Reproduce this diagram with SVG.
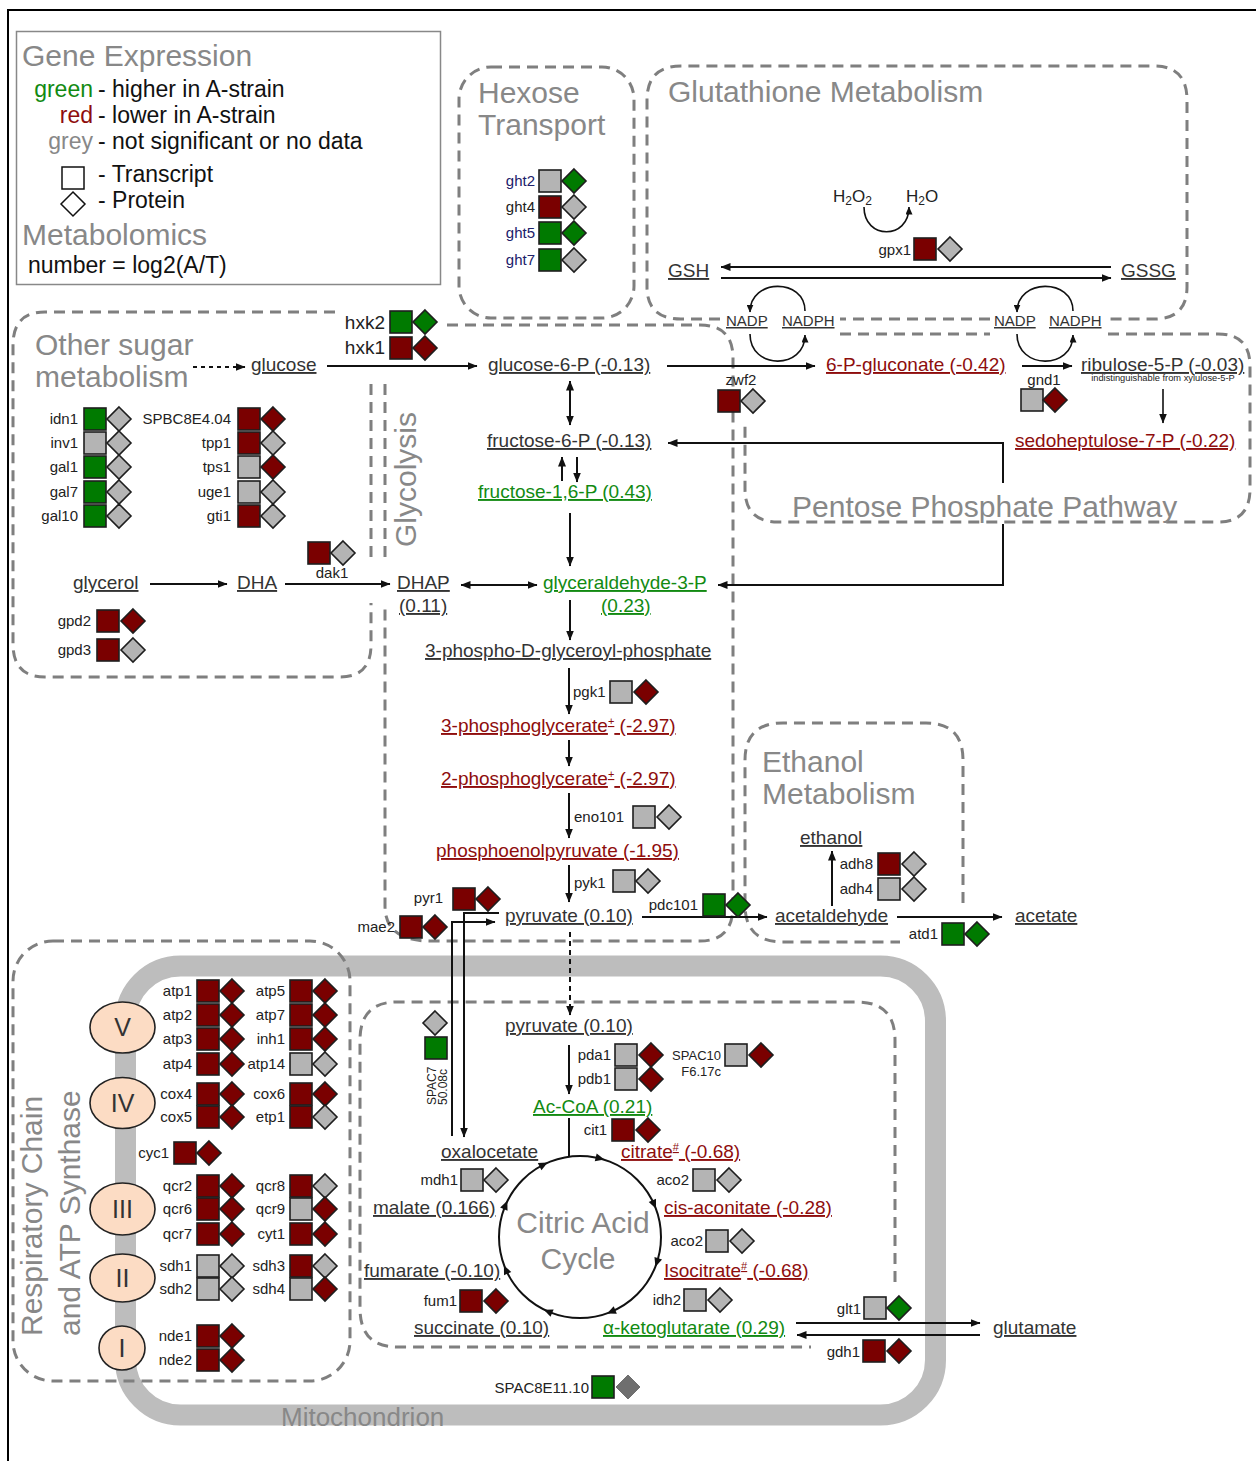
<svg xmlns="http://www.w3.org/2000/svg" width="1256" height="1461" viewBox="0 0 1256 1461">
<style>
text{font-family:"Liberation Sans",Arial,Helvetica,sans-serif}
.t{font-size:30px;fill:#888}
.m{font-size:19px;fill:#333;text-decoration:underline}
.mr{fill:#8e0d0d}
.mg{fill:#128a12}
.gl{font-size:15px;fill:#222}
.e{text-anchor:end}
.c{text-anchor:middle}
.nv{fill:#20206a}
.lg{font-size:23px;fill:#111}
.ln{stroke:#111;stroke-width:2;fill:none}
.th{stroke:#111;stroke-width:1.6;fill:none}
.box{fill:none;stroke:#7f7f7f;stroke-width:3;stroke-dasharray:11 7}
.i{stroke:#1e1e1e;stroke-width:1.6}
.r{fill:#7a0000}.g{fill:#007a00}.n{fill:#b4b4b4}.k{fill:#6f6f6f;stroke:#6f6f6f}
.cx{fill:#fcdcc4;stroke:#222;stroke-width:1.6}
.rn{font-size:25px;fill:#333;text-anchor:middle}
.ah{fill:#111}
</style>
<defs>
<rect id="sq" width="22" height="22"/>
<path id="dm" d="M0,-12L12,0L0,12L-12,0Z"/>
<marker id="a" viewBox="0 0 10 8" refX="9.5" refY="4" markerWidth="10" markerHeight="8" markerUnits="userSpaceOnUse" orient="auto-start-reverse"><path d="M0,0L10,4L0,8Z" fill="#111"/></marker>
<marker id="s" viewBox="0 0 8 7" refX="7.5" refY="3.5" markerWidth="8" markerHeight="7" markerUnits="userSpaceOnUse" orient="auto"><path d="M0,0L8,3.5L0,7Z" fill="#111"/></marker>
</defs>
<rect width="1256" height="1461" fill="#fff"/>
<path d="M8,1461V10H1256" stroke="#000" stroke-width="2" fill="none"/>

<!-- Mitochondrion -->
<g id="mitochondrion">
<rect x="125.5" y="966" width="810" height="449" rx="55" fill="none" stroke="#bdbdbd" stroke-width="21"/>
<text x="281" y="1426" font-size="26" fill="#888">Mitochondrion</text>
</g>

<!-- Region boxes -->
<g id="regions">
<rect id="legend-box" x="16.5" y="31.5" width="424" height="253" fill="none" stroke="#888" stroke-width="1.5"/>
<rect id="hexose-box" class="box" x="459" y="67" width="175" height="251" rx="32"/>
<path id="glutathione-box" class="box" d="M720,319H681Q647,319 647,287V100Q647,66 681,66H1154Q1187,66 1187,100V287Q1187,319 1154,319H1108M990,319H840"/>
<path id="ppp-box" class="box" d="M840,334H990M1108,334H1218Q1250,334 1250,366V489Q1250,522 1218,522H778Q745,522 745,489V420"/>
<path id="other-sugar-box" class="box" d="M335,312H45Q13,312 13,345V644Q13,677 45,677H340Q371,677 371,645V603M371,557V377"/>
<path id="glycolysis-box" class="box" d="M447,325H700Q733,325 733,358V906Q733,941 700,941H430Q385,941 385,906V603M385,557V377"/>
<path id="ethanol-box" class="box" d="M963,903V760Q963,723 926,723H783Q745,723 745,760V905Q745,942 783,942H900"/>
<rect id="respiratory-box" class="box" x="13" y="941" width="337" height="440" rx="40"/>
<path id="tca-box" class="box" d="M895,1282V1040Q895,1002 857,1002H397Q360,1002 360,1040V1308Q360,1347 397,1347H811"/>
</g>

<!-- Titles -->
<g id="titles">
<text class="t" x="22" y="66">Gene Expression</text>
<text class="t" x="22" y="245">Metabolomics</text>
<text class="t" x="478" y="103">Hexose</text>
<text class="t" x="478" y="135">Transport</text>
<text class="t" x="668" y="102">Glutathione Metabolism</text>
<text class="t" x="35" y="355">Other sugar</text>
<text class="t" x="35" y="387">metabolism</text>
<text class="t" transform="translate(416,547) rotate(-90)">Glycolysis</text>
<text class="t" x="792" y="517">Pentose Phosphate Pathway</text>
<text class="t" x="762" y="772">Ethanol</text>
<text class="t" x="762" y="804">Metabolism</text>
<text class="t" transform="translate(42,1336) rotate(-90)">Respiratory Chain</text>
<text class="t" transform="translate(80,1336) rotate(-90)">and ATP Synthase</text>
<text class="t c" x="583" y="1233">Citric Acid</text>
<text class="t c" x="578" y="1269">Cycle</text>
</g>

<!-- Legend -->
<g id="legend">
<text class="lg e" x="93" y="97" style="fill:#128a12">green</text>
<text class="lg" x="98" y="97">- higher in A-strain</text>
<text class="lg e" x="93" y="123" style="fill:#8e0d0d">red</text>
<text class="lg" x="98" y="123">- lower in A-strain</text>
<text class="lg e" x="93" y="149" style="fill:#888">grey</text>
<text class="lg" x="98" y="149">- not significant or no data</text>
<rect x="62" y="167" width="22" height="22" fill="#fff" stroke="#111" stroke-width="1.5"/>
<text class="lg" x="98" y="182">- Transcript</text>
<path d="M73,192L85,204L73,216L61,204Z" fill="#fff" stroke="#111" stroke-width="1.5"/>
<text class="lg" x="98" y="208">- Protein</text>
<text class="lg" x="28" y="273">number = log2(A/T)</text>
</g>

<!-- Connectors -->
<g id="connectors">
<path class="ln" d="M193,367H245" stroke-width="1.8" stroke-dasharray="4 4" marker-end="url(#a)"/>
<path class="ln" d="M327,366H477" marker-end="url(#a)"/>
<path class="ln" d="M667,366H815" marker-end="url(#a)"/>
<path class="ln" d="M1022,366H1072" marker-end="url(#a)"/>
<path class="th" d="M1163,389V423" marker-end="url(#a)"/>
<path class="ln" d="M570,381V425" marker-start="url(#a)" marker-end="url(#a)"/>
<path class="ln" d="M1003,483V443H668" marker-end="url(#a)"/>
<path class="ln" d="M1003,524V585H718" marker-end="url(#a)"/>
<path class="ln" d="M562,481V457" marker-end="url(#a)"/>
<path class="ln" d="M577,457V482" marker-end="url(#a)"/>
<path class="ln" d="M570,513V566" marker-end="url(#a)"/>
<path class="ln" d="M461,585H537" marker-start="url(#a)" marker-end="url(#a)"/>
<path class="ln" d="M150,584H227" marker-end="url(#a)"/>
<path class="ln" d="M285,584H390" marker-end="url(#a)"/>
<path class="ln" d="M570,600V640" marker-end="url(#a)"/>
<path class="ln" d="M569,668V714" marker-end="url(#a)"/>
<path class="ln" d="M569,740V766" marker-end="url(#a)"/>
<path class="ln" d="M569,793V838" marker-end="url(#a)"/>
<path class="ln" d="M569,865V902" marker-end="url(#a)"/>
<path class="ln" d="M642,917H767" marker-end="url(#a)"/>
<path class="ln" d="M832,906V851" marker-end="url(#a)"/>
<path class="ln" d="M897,917H1002" marker-end="url(#a)"/>
<path class="ln" d="M570,932V1015" stroke-width="1.6" stroke-dasharray="5 4" marker-end="url(#a)"/>
<path class="ln" d="M452,1136V922H495" marker-end="url(#a)"/>
<path class="ln" d="M499,913H464V1137" marker-end="url(#a)"/>
<path class="ln" d="M569,1045V1094" marker-end="url(#a)"/>
<path class="ln" d="M569,1118V1156"/>
<path class="ln" d="M796,1323H980" marker-end="url(#a)"/>
<path class="ln" d="M980,1335H797" marker-end="url(#a)"/>
<path class="ln" d="M1111,267H721" marker-end="url(#a)"/>
<path class="ln" d="M721,278H1111" marker-end="url(#a)"/>
<path class="th" d="M864,207C864,240 909,240 909,207" marker-end="url(#s)"/>
<path class="th" d="M805,311C805,278 750,278 750,312" marker-end="url(#s)"/>
<path class="th" d="M750,334C750,370 805,370 805,335" marker-end="url(#s)"/>
<path class="th" d="M1073,311C1073,278 1017,278 1017,312" marker-end="url(#s)"/>
<path class="th" d="M1017,334C1017,370 1073,370 1073,335" marker-end="url(#s)"/>
<circle class="ln" cx="580" cy="1237" r="81" stroke-width="2.5"/>
<path class="ah" d="M5,0L-4,-4L-4,4Z" transform="translate(543.2,1164.8) rotate(-27)"/>
<path class="ah" d="M5,0L-4,-4L-4,4Z" transform="translate(599.6,1158.4) rotate(14)"/>
<path class="ah" d="M5,0L-4,-4L-4,4Z" transform="translate(654,1204.1) rotate(66)"/>
<path class="ah" d="M5,0L-4,-4L-4,4Z" transform="translate(657,1262) rotate(108)"/>
<path class="ah" d="M5,0L-4,-4L-4,4Z" transform="translate(611.6,1311.6) rotate(157)"/>
<path class="ah" d="M5,0L-4,-4L-4,4Z" transform="translate(548.4,1311.6) rotate(203)"/>
<path class="ah" d="M5,0L-4,-4L-4,4Z" transform="translate(506,1270) rotate(246)"/>
<path class="ah" d="M5,0L-4,-4L-4,4Z" transform="translate(505.4,1205.4) rotate(293)"/>
</g>

<!-- Metabolites -->
<g id="metabolites">
<text id="m-glucose" class="m" x="251" y="371">glucose</text>
<text id="m-g6p" class="m" x="488" y="371">glucose-6-P (-0.13)</text>
<text id="m-6pg" class="m mr" x="826" y="371">6-P-gluconate (-0.42)</text>
<g id="m-ru5p"><text class="m" x="1081" y="371">ribulose-5-P (-0.03)</text>
<text x="1163" y="381" font-size="9.3" fill="#222" class="c">indistinguishable from xylulose-5-P</text></g>
<text id="m-s7p" class="m mr" x="1015" y="447">sedoheptulose-7-P (-0.22)</text>
<text id="m-f6p" class="m" x="487" y="447">fructose-6-P (-0.13)</text>
<text id="m-f16p" class="m mg" x="478" y="498">fructose-1,6-P (0.43)</text>
<text id="m-gsh" class="m" x="668" y="277">GSH</text>
<text id="m-gssg" class="m" x="1121" y="277">GSSG</text>
<g id="m-h2o2"><text x="833" y="202" font-size="17" fill="#222">H<tspan font-size="12" dy="3">2</tspan><tspan dy="-3">O</tspan><tspan font-size="12" dy="3">2</tspan></text></g>
<g id="m-h2o"><text x="906" y="202" font-size="17" fill="#222">H<tspan font-size="12" dy="3">2</tspan><tspan dy="-3">O</tspan></text></g>
<text class="m" x="726" y="326" style="font-size:15px">NADP</text>
<text class="m" x="782" y="326" style="font-size:15px">NADPH</text>
<text class="m" x="994" y="326" style="font-size:15px">NADP</text>
<text class="m" x="1049" y="326" style="font-size:15px">NADPH</text>
<text id="m-glycerol" class="m" x="73" y="589">glycerol</text>
<text id="m-dha" class="m" x="237" y="589">DHA</text>
<g id="m-dhap"><text class="m" x="397" y="589">DHAP</text><text class="m" x="399" y="612">(0.11)</text></g>
<g id="m-g3p"><text class="m mg" x="543" y="589">glyceraldehyde-3-P </text><text class="m mg" x="601" y="612">(0.23)</text></g>
<text id="m-bpg" class="m" x="425" y="657">3-phospho-D-glyceroyl-phosphate</text>
<text id="m-3pg" class="m mr" x="441" y="732">3-phosphoglycerate<tspan font-size="11" dy="-7">+</tspan><tspan dy="7"> (-2.97)</tspan></text>
<text id="m-2pg" class="m mr" x="441" y="785">2-phosphoglycerate<tspan font-size="11" dy="-7">+</tspan><tspan dy="7"> (-2.97)</tspan></text>
<text id="m-pep" class="m mr" x="436" y="857">phosphoenolpyruvate (-1.95)</text>
<text id="m-pyr" class="m" x="505" y="922">pyruvate (0.10)</text>
<text id="m-acald" class="m" x="775" y="922">acetaldehyde</text>
<text id="m-ethanol" class="m" x="800" y="844">ethanol</text>
<text id="m-acetate" class="m" x="1015" y="922">acetate</text>
<text id="m-pyr-mito" class="m" x="505" y="1032">pyruvate (0.10)</text>
<text id="m-accoa" class="m mg" x="533" y="1113">Ac-CoA (0.21)</text>
<text id="m-citrate" class="m mr" x="621" y="1158">citrate<tspan font-size="11" dy="-7">#</tspan><tspan dy="7"> (-0.68)</tspan></text>
<text id="m-cisacon" class="m mr" x="664" y="1214">cis-aconitate (-0.28)</text>
<text id="m-isocit" class="m mr" x="664" y="1277">Isocitrate<tspan font-size="11" dy="-7">#</tspan><tspan dy="7"> (-0.68)</tspan></text>
<text id="m-akg" class="m mg" x="603" y="1334">α-ketoglutarate (0.29)</text>
<text id="m-succ" class="m" x="414" y="1334">succinate (0.10)</text>
<text id="m-fum" class="m" x="364" y="1277">fumarate (-0.10)</text>
<text id="m-mal" class="m" x="373" y="1214">malate (0.166)</text>
<text id="m-oaa" class="m" x="441" y="1158">oxalocetate</text>
<text id="m-glu" class="m" x="993" y="1334">glutamate</text>
</g>

<!-- Respiratory complexes -->
<g id="complexes">
<g id="cV"><ellipse class="cx" cx="122.5" cy="1027.5" rx="32.5" ry="25.5"/><text class="rn" x="122.5" y="1036">V</text></g>
<g id="cIV"><ellipse class="cx" cx="122.5" cy="1103" rx="32.5" ry="25.5"/><text class="rn" x="122.5" y="1112">IV</text></g>
<g id="cIII"><ellipse class="cx" cx="122.5" cy="1209" rx="32.5" ry="26"/><text class="rn" x="122.5" y="1218">III</text></g>
<g id="cII"><ellipse class="cx" cx="122.5" cy="1278" rx="32.5" ry="24"/><text class="rn" x="122.5" y="1287">II</text></g>
<g id="cI"><ellipse class="cx" cx="122" cy="1348" rx="23" ry="22"/><text class="rn" x="122" y="1357">I</text></g>
</g>

<!-- Genes -->
<g id="genes">
<g id="ght2"><text class="gl e nv" x="535" y="186">ght2</text><use href="#sq" x="539" y="170" class="i n"/><use href="#dm" x="574" y="181" class="i g"/></g>
<g id="ght4"><text class="gl e" x="535" y="212">ght4</text><use href="#sq" x="539" y="196" class="i r"/><use href="#dm" x="574" y="207" class="i n"/></g>
<g id="ght5"><text class="gl e nv" x="535" y="238">ght5</text><use href="#sq" x="539" y="222" class="i g"/><use href="#dm" x="574" y="233" class="i g"/></g>
<g id="ght7"><text class="gl e nv" x="535" y="265">ght7</text><use href="#sq" x="539" y="249" class="i g"/><use href="#dm" x="574" y="260" class="i n"/></g>

<g id="gpx1"><text class="gl e" x="911" y="255">gpx1</text><use href="#sq" x="914" y="238" class="i r"/><use href="#dm" x="950" y="249" class="i n"/></g>
<g id="hxk2"><text class="gl e" x="385" y="329" style="font-size:19px">hxk2</text><use href="#sq" x="390" y="311" class="i g"/><use href="#dm" x="425" y="322" class="i g"/></g>
<g id="hxk1"><text class="gl e" x="385" y="354" style="font-size:19px">hxk1</text><use href="#sq" x="390" y="337" class="i r"/><use href="#dm" x="425" y="348" class="i r"/></g>
<g id="zwf2"><text class="gl c" x="741" y="385">zwf2</text><use href="#sq" x="718" y="390" class="i r"/><use href="#dm" x="753" y="401" class="i n"/></g>
<g id="gnd1"><text class="gl c" x="1044" y="385">gnd1</text><use href="#sq" x="1021" y="389" class="i n"/><use href="#dm" x="1055" y="400" class="i r"/></g>

<g id="idn1"><text class="gl e" x="78" y="424">idn1</text><use href="#sq" x="84" y="408" class="i g"/><use href="#dm" x="119" y="419" class="i n"/></g>
<g id="inv1"><text class="gl e" x="78" y="448">inv1</text><use href="#sq" x="84" y="432" class="i n"/><use href="#dm" x="119" y="443" class="i n"/></g>
<g id="gal1"><text class="gl e" x="78" y="472">gal1</text><use href="#sq" x="84" y="456" class="i g"/><use href="#dm" x="119" y="467" class="i n"/></g>
<g id="gal7"><text class="gl e" x="78" y="497">gal7</text><use href="#sq" x="84" y="481" class="i g"/><use href="#dm" x="119" y="492" class="i n"/></g>
<g id="gal10"><text class="gl e" x="78" y="521">gal10</text><use href="#sq" x="84" y="505" class="i g"/><use href="#dm" x="119" y="516" class="i n"/></g>
<g id="SPBC8E4.04"><text class="gl e" x="231" y="424">SPBC8E4.04</text><use href="#sq" x="238" y="408" class="i r"/><use href="#dm" x="273" y="419" class="i r"/></g>
<g id="tpp1"><text class="gl e" x="231" y="448">tpp1</text><use href="#sq" x="238" y="432" class="i r"/><use href="#dm" x="273" y="443" class="i n"/></g>
<g id="tps1"><text class="gl e" x="231" y="472">tps1</text><use href="#sq" x="238" y="456" class="i n"/><use href="#dm" x="273" y="467" class="i r"/></g>
<g id="uge1"><text class="gl e" x="231" y="497">uge1</text><use href="#sq" x="238" y="481" class="i n"/><use href="#dm" x="273" y="492" class="i n"/></g>
<g id="gti1"><text class="gl e" x="231" y="521">gti1</text><use href="#sq" x="238" y="505" class="i r"/><use href="#dm" x="273" y="516" class="i n"/></g>
<g id="dak1"><text class="gl c" x="332" y="578">dak1</text><use href="#sq" x="308" y="542" class="i r"/><use href="#dm" x="343" y="553" class="i n"/></g>
<g id="gpd2"><text class="gl e" x="91" y="626">gpd2</text><use href="#sq" x="97" y="610" class="i r"/><use href="#dm" x="133" y="621" class="i r"/></g>
<g id="gpd3"><text class="gl e" x="91" y="655">gpd3</text><use href="#sq" x="97" y="639" class="i r"/><use href="#dm" x="133" y="650" class="i n"/></g>

<g id="pgk1"><text class="gl" x="573" y="697">pgk1</text><use href="#sq" x="610" y="681" class="i n"/><use href="#dm" x="646" y="692" class="i r"/></g>
<g id="eno101"><text class="gl" x="574" y="822">eno101</text><use href="#sq" x="633" y="806" class="i n"/><use href="#dm" x="669" y="817" class="i n"/></g>
<g id="pyk1"><text class="gl" x="574" y="888">pyk1</text><use href="#sq" x="613" y="870" class="i n"/><use href="#dm" x="648" y="881" class="i n"/></g>
<g id="pyr1"><text class="gl e" x="443" y="903">pyr1</text><use href="#sq" x="453" y="888" class="i r"/><use href="#dm" x="488" y="899" class="i r"/></g>
<g id="mae2"><text class="gl e" x="395" y="932">mae2</text><use href="#sq" x="400" y="916" class="i r"/><use href="#dm" x="435" y="927" class="i r"/></g>
<g id="pdc101"><text class="gl e" x="698" y="910">pdc101</text><use href="#sq" x="703" y="894" class="i g"/><use href="#dm" x="738" y="905" class="i g"/></g>
<g id="adh8"><text class="gl e" x="873" y="869">adh8</text><use href="#sq" x="878" y="853" class="i r"/><use href="#dm" x="914" y="864" class="i n"/></g>
<g id="adh4"><text class="gl e" x="873" y="894">adh4</text><use href="#sq" x="878" y="878" class="i n"/><use href="#dm" x="914" y="889" class="i n"/></g>
<g id="atd1"><text class="gl e" x="938" y="939">atd1</text><use href="#sq" x="942" y="923" class="i g"/><use href="#dm" x="977" y="934" class="i g"/></g>

<g id="atp1"><text class="gl e" x="192" y="996">atp1</text><use href="#sq" x="197" y="980" class="i r"/><use href="#dm" x="232" y="991" class="i r"/></g>
<g id="atp2"><text class="gl e" x="192" y="1020">atp2</text><use href="#sq" x="197" y="1004" class="i r"/><use href="#dm" x="232" y="1015" class="i r"/></g>
<g id="atp3"><text class="gl e" x="192" y="1044">atp3</text><use href="#sq" x="197" y="1028" class="i r"/><use href="#dm" x="232" y="1039" class="i r"/></g>
<g id="atp4"><text class="gl e" x="192" y="1069">atp4</text><use href="#sq" x="197" y="1053" class="i r"/><use href="#dm" x="232" y="1064" class="i r"/></g>
<g id="cox4"><text class="gl e" x="192" y="1099">cox4</text><use href="#sq" x="197" y="1083" class="i r"/><use href="#dm" x="232" y="1094" class="i r"/></g>
<g id="cox5"><text class="gl e" x="192" y="1122">cox5</text><use href="#sq" x="197" y="1106" class="i r"/><use href="#dm" x="232" y="1117" class="i r"/></g>
<g id="cyc1"><text class="gl e" x="169" y="1158">cyc1</text><use href="#sq" x="174" y="1142" class="i r"/><use href="#dm" x="209" y="1153" class="i r"/></g>
<g id="qcr2"><text class="gl e" x="192" y="1191">qcr2</text><use href="#sq" x="197" y="1175" class="i r"/><use href="#dm" x="232" y="1186" class="i r"/></g>
<g id="qcr6"><text class="gl e" x="192" y="1214">qcr6</text><use href="#sq" x="197" y="1198" class="i r"/><use href="#dm" x="232" y="1209" class="i r"/></g>
<g id="qcr7"><text class="gl e" x="192" y="1239">qcr7</text><use href="#sq" x="197" y="1223" class="i r"/><use href="#dm" x="232" y="1234" class="i r"/></g>
<g id="sdh1"><text class="gl e" x="192" y="1271">sdh1</text><use href="#sq" x="197" y="1255" class="i n"/><use href="#dm" x="232" y="1266" class="i n"/></g>
<g id="sdh2"><text class="gl e" x="192" y="1294">sdh2</text><use href="#sq" x="197" y="1278" class="i n"/><use href="#dm" x="232" y="1289" class="i n"/></g>
<g id="nde1"><text class="gl e" x="192" y="1341">nde1</text><use href="#sq" x="197" y="1325" class="i r"/><use href="#dm" x="232" y="1336" class="i r"/></g>
<g id="nde2"><text class="gl e" x="192" y="1365">nde2</text><use href="#sq" x="197" y="1349" class="i r"/><use href="#dm" x="232" y="1360" class="i r"/></g>
<g id="atp5"><text class="gl e" x="285" y="996">atp5</text><use href="#sq" x="290" y="980" class="i r"/><use href="#dm" x="325" y="991" class="i r"/></g>
<g id="atp7"><text class="gl e" x="285" y="1020">atp7</text><use href="#sq" x="290" y="1004" class="i r"/><use href="#dm" x="325" y="1015" class="i r"/></g>
<g id="inh1"><text class="gl e" x="285" y="1044">inh1</text><use href="#sq" x="290" y="1028" class="i r"/><use href="#dm" x="325" y="1039" class="i r"/></g>
<g id="atp14"><text class="gl e" x="285" y="1069">atp14</text><use href="#sq" x="290" y="1053" class="i n"/><use href="#dm" x="325" y="1064" class="i n"/></g>
<g id="cox6"><text class="gl e" x="285" y="1099">cox6</text><use href="#sq" x="290" y="1083" class="i r"/><use href="#dm" x="325" y="1094" class="i r"/></g>
<g id="etp1"><text class="gl e" x="285" y="1122">etp1</text><use href="#sq" x="290" y="1106" class="i r"/><use href="#dm" x="325" y="1117" class="i n"/></g>
<g id="qcr8"><text class="gl e" x="285" y="1191">qcr8</text><use href="#sq" x="290" y="1175" class="i r"/><use href="#dm" x="325" y="1186" class="i n"/></g>
<g id="qcr9"><text class="gl e" x="285" y="1214">qcr9</text><use href="#sq" x="290" y="1198" class="i n"/><use href="#dm" x="325" y="1209" class="i r"/></g>
<g id="cyt1"><text class="gl e" x="285" y="1239">cyt1</text><use href="#sq" x="290" y="1223" class="i r"/><use href="#dm" x="325" y="1234" class="i r"/></g>
<g id="sdh3"><text class="gl e" x="285" y="1271">sdh3</text><use href="#sq" x="290" y="1255" class="i r"/><use href="#dm" x="325" y="1266" class="i n"/></g>
<g id="sdh4"><text class="gl e" x="285" y="1294">sdh4</text><use href="#sq" x="290" y="1278" class="i n"/><use href="#dm" x="325" y="1289" class="i r"/></g>

<g id="SPAC750.08c"><use href="#dm" x="435" y="1023" class="i n"/><use href="#sq" x="425" y="1037" class="i g"/>
<text class="gl" style="font-size:12px" transform="translate(436,1105) rotate(-90)">SPAC7</text>
<text class="gl" style="font-size:12px" transform="translate(447,1105) rotate(-90)">50.08c</text></g>
<g id="pda1"><text class="gl e" x="611" y="1060">pda1</text><use href="#sq" x="615" y="1044" class="i n"/><use href="#dm" x="651" y="1055" class="i r"/></g>
<g id="pdb1"><text class="gl e" x="611" y="1084">pdb1</text><use href="#sq" x="615" y="1068" class="i n"/><use href="#dm" x="651" y="1079" class="i r"/></g>
<g id="SPAC10F6.17c"><text class="gl e" x="721" y="1060" style="font-size:13px">SPAC10</text><text class="gl e" x="721" y="1076" style="font-size:13px">F6.17c</text><use href="#sq" x="725" y="1044" class="i n"/><use href="#dm" x="761" y="1055" class="i r"/></g>
<g id="cit1"><text class="gl e" x="607" y="1135">cit1</text><use href="#sq" x="612" y="1119" class="i r"/><use href="#dm" x="648" y="1130" class="i r"/></g>
<g id="aco2-a"><text class="gl e" x="689" y="1185">aco2</text><use href="#sq" x="693" y="1169" class="i n"/><use href="#dm" x="729" y="1180" class="i n"/></g>
<g id="aco2-b"><text class="gl e" x="703" y="1246">aco2</text><use href="#sq" x="706" y="1230" class="i n"/><use href="#dm" x="742" y="1241" class="i n"/></g>
<g id="idh2"><text class="gl e" x="681" y="1305">idh2</text><use href="#sq" x="684" y="1289" class="i n"/><use href="#dm" x="720" y="1300" class="i n"/></g>
<g id="mdh1"><text class="gl e" x="458" y="1185">mdh1</text><use href="#sq" x="461" y="1169" class="i n"/><use href="#dm" x="496" y="1180" class="i n"/></g>
<g id="fum1"><text class="gl e" x="457" y="1306">fum1</text><use href="#sq" x="460" y="1290" class="i r"/><use href="#dm" x="496" y="1301" class="i r"/></g>
<g id="glt1"><text class="gl e" x="861" y="1314">glt1</text><use href="#sq" x="864" y="1297" class="i n"/><use href="#dm" x="899" y="1308" class="i g"/></g>
<g id="gdh1"><text class="gl e" x="860" y="1357">gdh1</text><use href="#sq" x="863" y="1340" class="i r"/><use href="#dm" x="899" y="1351" class="i r"/></g>
<g id="SPAC8E11.10"><text class="gl e" x="589" y="1393">SPAC8E11.10</text><use href="#sq" x="592" y="1376" class="i g"/><use href="#dm" x="628" y="1387" class="k"/></g>
</g>
</svg>
